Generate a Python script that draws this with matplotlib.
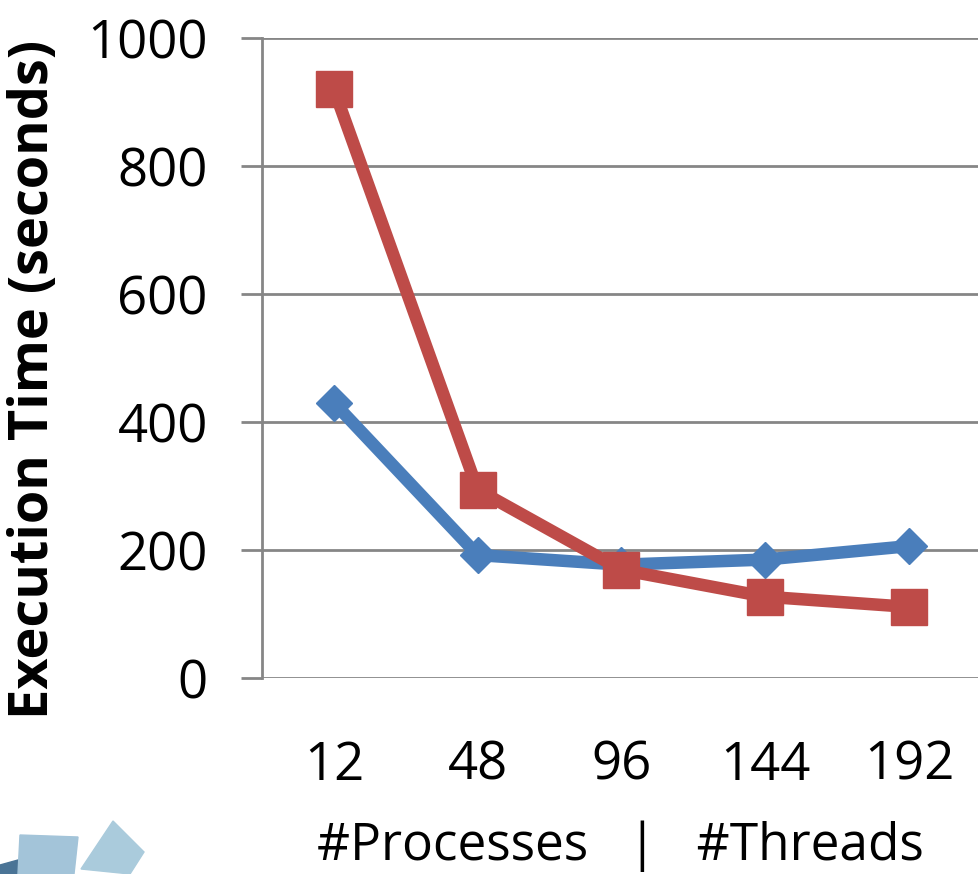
import matplotlib.pyplot as plt
from matplotlib.patches import Polygon

# data
cores = ['12', '48', '96', '144', '192']
processes = [430, 192, 177, 185, 206]   # blue diamonds
threads = [920, 294, 169, 127, 111]     # red squares
yticks = [0, 200, 400, 600, 800, 1000]

plt.rcParams['font.family'] = ['Open Sans', 'DejaVu Sans']

fig = plt.figure(figsize=(9.79, 8.74), dpi=100)
ax = fig.add_axes([0.2676, 0.2243, 0.7324, 0.7323])

x = range(len(cores))
ax.plot(x, processes, color='#4a7ebb', lw=9, marker='D', ms=18,
        solid_capstyle='round', zorder=3)
ax.plot(x, threads, color='#be4b48', lw=9, marker='s', ms=26,
        solid_capstyle='round', zorder=4)

ax.set_xlim(-0.5, 4.486)
ax.set_ylim(0, 1000)
ax.set_yticks(yticks)
ax.set_xticks(list(x))
ax.set_xticklabels(cores)
ax.grid(axis='y', color='#868686', lw=2)
ax.set_axisbelow(True)

for s in ['top', 'right', 'bottom']:
    ax.spines[s].set_visible(False)
ax.spines['left'].set_color('#868686')
ax.spines['left'].set_linewidth(2)

ax.tick_params(axis='y', length=15, width=2, color='#868686',
               labelsize=38, pad=24)
ax.tick_params(axis='x', length=0, labelsize=38, pad=44)

ax.set_ylabel('Execution Time (seconds)', fontsize=39, fontweight='bold')
ax.yaxis.set_label_coords(-0.28, 0.466)
ax.set_xlabel('#Processes   |   #Threads', fontsize=37, labelpad=20)

# decoration in the bottom-left corner
W, H = 979, 874
def px(pts):
    return [(a / W, 1 - b / H) for a, b in pts]

fig.patches.append(Polygon(px([(0, 865), (18, 860), (23, 874), (0, 874)]),
                           closed=True, color='#4a7496', transform=fig.transFigure))
fig.patches.append(Polygon(px([(20, 835), (78, 837), (74, 874), (18, 874)]),
                           closed=True, color='#a3c4d9', transform=fig.transFigure))
fig.patches.append(Polygon(px([(113, 821), (144, 852), (130, 874), (81, 869)]),
                           closed=True, color='#aacbdc', transform=fig.transFigure))

fig.savefig('out.png', dpi=100)
